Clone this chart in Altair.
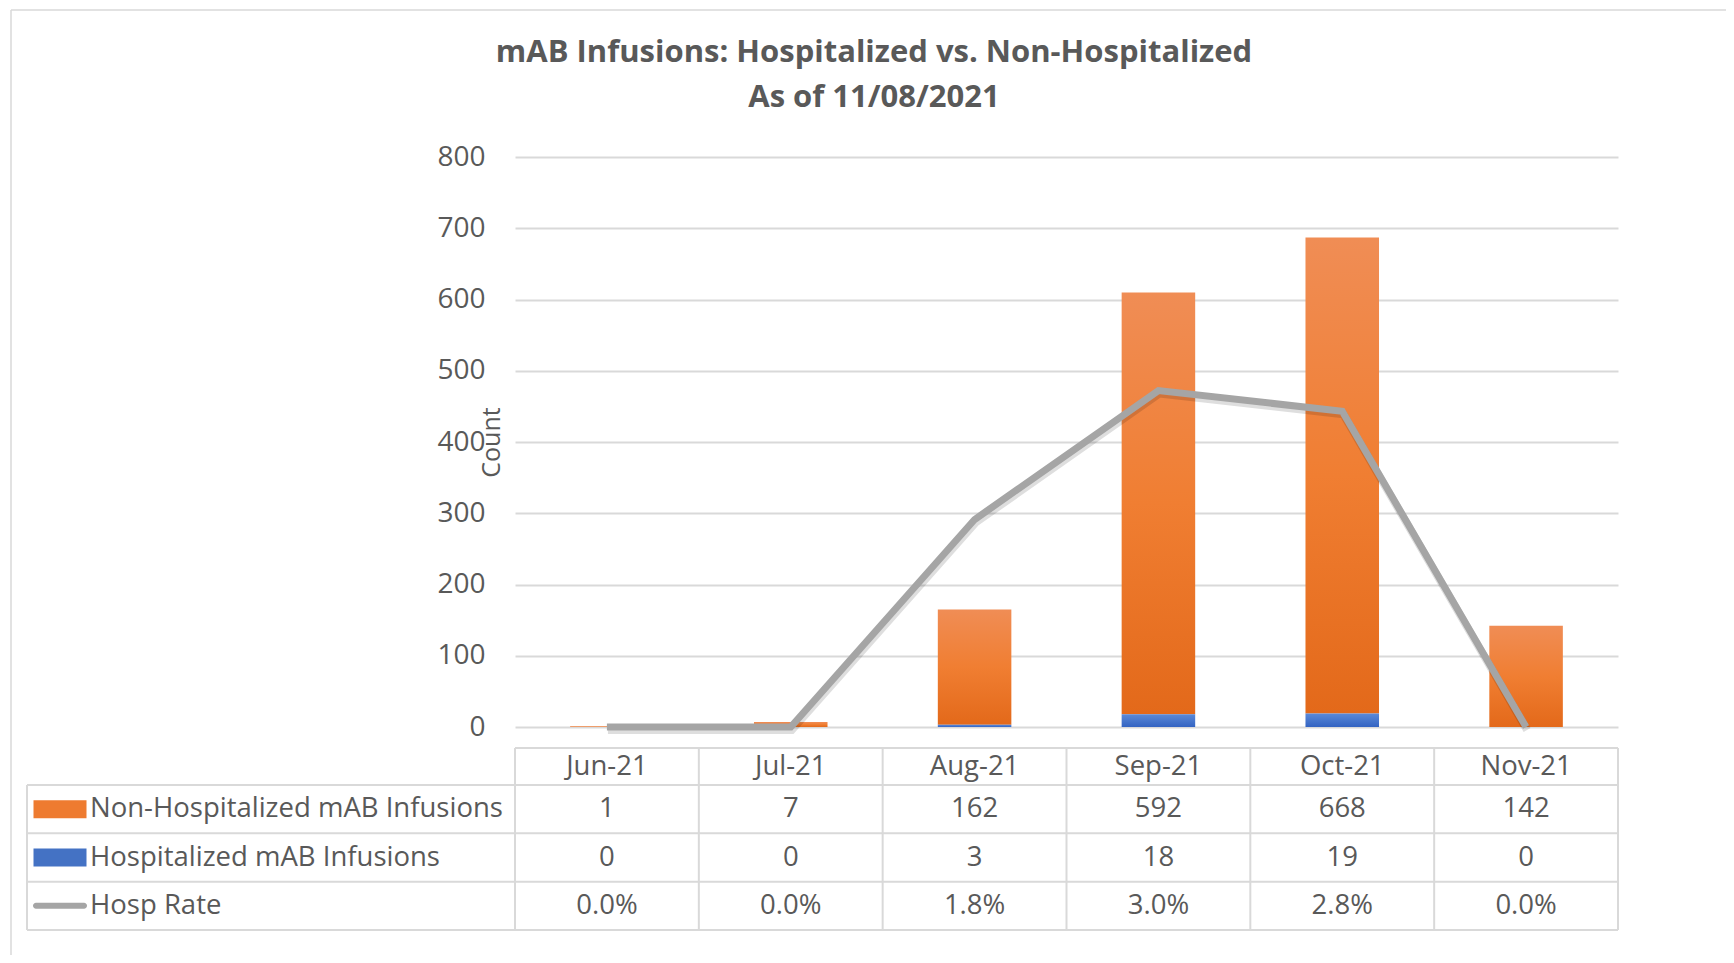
import altair as alt
import pandas as pd

# ---------------- data ----------------
months = ["Jun-21", "Jul-21", "Aug-21", "Sep-21", "Oct-21", "Nov-21"]
non_hosp = [1, 7, 162, 592, 668, 142]
hosp = [0, 0, 3, 18, 19, 0]
hosp_rate = [0.0, 0.0, 0.0182, 0.02951, 0.0277, 0.0]
row_names = ["Non-Hospitalized mAB Infusions", "Hospitalized mAB Infusions", "Hosp Rate"]
title_lines = ["mAB Infusions: Hospitalized vs. Non-Hospitalized", "As of 11/08/2021"]

# ---------------- tables built from the arrays ----------------
main = pd.DataFrame({
    "month": months,
    "non_hosp": non_hosp,
    "hosp": hosp,
    "rate": hosp_rate,
})
main["total"] = main["non_hosp"] + main["hosp"]

cells = []
for i, m in enumerate(months):
    cells.append({"month": m, "row": row_names[0], "label": str(non_hosp[i])})
    cells.append({"month": m, "row": row_names[1], "label": str(hosp[i])})
    cells.append({"month": m, "row": row_names[2], "label": f"{hosp_rate[i] * 100:.1f}%"})
cells = pd.DataFrame(cells)
rows = pd.DataFrame({"row": row_names})
one = pd.DataFrame({"k": [0]})
month_df = pd.DataFrame({"month": months})

# ---------------- styling ----------------
W, H = 1103, 570
FONT = "Open Sans"
TXT = "#595959"
GRID = "#D9D9D9"
FS = 27.5
ORANGE = alt.Gradient(gradient="linear", x1=0, y1=0, x2=0, y2=1,
                      stops=[alt.GradientStop(color="#F08D55", offset=0),
                             alt.GradientStop(color="#F07E32", offset=0.5),
                             alt.GradientStop(color="#E3691A", offset=1)])
BLUE = alt.Gradient(gradient="linear", x1=0, y1=0, x2=0, y2=1,
                    stops=[alt.GradientStop(color="#5B8AD8", offset=0),
                           alt.GradientStop(color="#3363C2", offset=1)])
GRAY = "#A5A5A5"

x_scale = alt.Scale(type="band", domain=months, paddingInner=0, paddingOuter=0)
X = alt.X("month:N", scale=x_scale, axis=None, sort=None)
count_scale = alt.Scale(domain=[0, 800], nice=False)
rate_scale = alt.Scale(domain=[0, 0.05], nice=False)
row_scale = alt.Scale(type="band", domain=row_names, range=[628, 773],
                      paddingInner=0, paddingOuter=0)

count_axis = alt.Axis(values=list(range(0, 900, 100)), grid=True, gridColor=GRID,
                      gridWidth=2, domain=False, ticks=False, labelFont=FONT,
                      labelFontSize=28, labelColor=TXT, labelPadding=30,
                      title="Count", titleFont=FONT, titleFontSize=25,
                      titleFontWeight="normal", titleColor=TXT, titleX=-24,
                      titleY=H / 2, titleAngle=270, titleAlign="center",
                      titleBaseline="middle")
rate_axis = alt.Axis(orient="right", values=[0, 0.01, 0.02, 0.03, 0.04, 0.05],
                     format=".1%", grid=False, domain=False, ticks=False,
                     labelFont=FONT, labelFontSize=28, labelColor=TXT,
                     labelPadding=30, title="Hospitalization Rate", titleFont=FONT,
                     titleFontSize=25, titleFontWeight="normal", titleColor=TXT,
                     titleX=-22, titleY=H / 2, titleAngle=270, titleAlign="center",
                     titleBaseline="middle")

base = alt.Chart(main)

blue_bars = base.mark_bar(color=BLUE, width={"band": 0.4}).encode(
    x=X, y=alt.Y("hosp:Q", scale=count_scale, axis=count_axis))
orange_bars = base.mark_bar(color=ORANGE, width={"band": 0.4}).encode(
    x=X, y=alt.Y("total:Q", scale=count_scale, axis=count_axis), y2="hosp:Q")
bars = alt.layer(orange_bars, blue_bars)

line_shadow = base.mark_line(color="#000000", opacity=0.13, strokeWidth=8,
                             yOffset=3, xOffset=1).encode(
    x=X, y=alt.Y("rate:Q", scale=rate_scale, axis=None))
line = base.mark_line(color=GRAY, strokeWidth=7).encode(
    x=X, y=alt.Y("rate:Q", scale=rate_scale, axis=rate_axis))
lines = alt.layer(line_shadow, line)

# ---------------- data table under the chart ----------------
RY = alt.Y("row:N", scale=row_scale, axis=None, sort=None)
cell_text = alt.Chart(cells).mark_text(font=FONT, fontSize=FS, color=TXT,
                                       baseline="middle").encode(
    x=X, y=RY, text="label:N")
row_text = alt.Chart(rows).mark_text(font=FONT, fontSize=FS, color=TXT,
                                     align="left", baseline="middle").encode(
    x=alt.value(-425), y=RY, text="row:N")
swatch_bar = alt.Chart(rows.iloc[:2]).mark_tick(orient="horizontal", size=53,
                                                thickness=18, opacity=1).encode(
    x=alt.value(-455), y=RY,
    color=alt.Color("row:N", scale=alt.Scale(domain=row_names[:2],
                                             range=["#EE7B30", "#4472C4"]),
                    legend=None))
swatch_line = alt.Chart(rows.iloc[2:]).mark_tick(orient="horizontal", size=54,
                                                 thickness=6, cornerRadius=3,
                                                 opacity=1, color=GRAY).encode(
    x=alt.value(-455), y=RY)
row_lines = alt.Chart(rows).mark_rule(color=GRID, strokeWidth=2).encode(
    y=alt.Y("row:N", scale=row_scale, axis=None, sort=None, bandPosition=0),
    x=alt.value(-488), x2=alt.value(W))
table_rows = alt.layer(cell_text, row_text, swatch_bar, swatch_line, row_lines)

header_text = alt.Chart(month_df).mark_text(font=FONT, fontSize=FS, color=TXT,
                                            baseline="middle").encode(
    x=X, y=alt.value(610), text="month:N")
col_lines = alt.Chart(month_df).mark_rule(color=GRID, strokeWidth=2).encode(
    x=alt.X("month:N", scale=x_scale, axis=None, sort=None, bandPosition=0),
    y=alt.value(591), y2=alt.value(773))
col_end = alt.Chart(month_df.iloc[-1:]).mark_rule(color=GRID, strokeWidth=2).encode(
    x=alt.X("month:N", scale=x_scale, axis=None, sort=None, bandPosition=1),
    y=alt.value(591), y2=alt.value(773))
frame = alt.Chart(one).mark_rule(color=GRID, strokeWidth=2)
hdr_top = frame.encode(x=alt.value(0), x2=alt.value(W), y=alt.value(591))
tbl_bottom = frame.encode(x=alt.value(-488), x2=alt.value(W), y=alt.value(773))
tbl_left = frame.encode(x=alt.value(-488), y=alt.value(628), y2=alt.value(773))

# chart border (Excel chart area outline)
border = alt.Chart(one).mark_rule(color="#D9D9D9", strokeWidth=1.5)
border_top = border.encode(x=alt.value(-504), x2=alt.value(1211), y=alt.value(-147))
border_left = border.encode(x=alt.value(-504), y=alt.value(-147), y2=alt.value(798))

# title
title1 = alt.Chart(one).mark_text(text=title_lines[0], font=FONT, fontSize=31,
                                  fontWeight="bold", color=TXT, align="center",
                                  baseline="alphabetic").encode(
    x=alt.value(359), y=alt.value(-95))
title2 = alt.Chart(one).mark_text(text=title_lines[1], font=FONT, fontSize=31,
                                  fontWeight="bold", color=TXT, align="center",
                                  baseline="alphabetic").encode(
    x=alt.value(359), y=alt.value(-50))

chart = alt.layer(
    border_top, border_left, title1, title2,
    bars, lines, table_rows,
    header_text, col_lines, col_end, hdr_top, tbl_bottom, tbl_left,
).resolve_scale(y="independent", color="independent").properties(
    width=W, height=H, autosize="none",
    padding={"left": 507, "top": 149, "right": 108, "bottom": 228},
).configure(background="white").configure_view(stroke=None)

chart.save("out.html", embed_options={"renderer": "svg", "actions": False})
